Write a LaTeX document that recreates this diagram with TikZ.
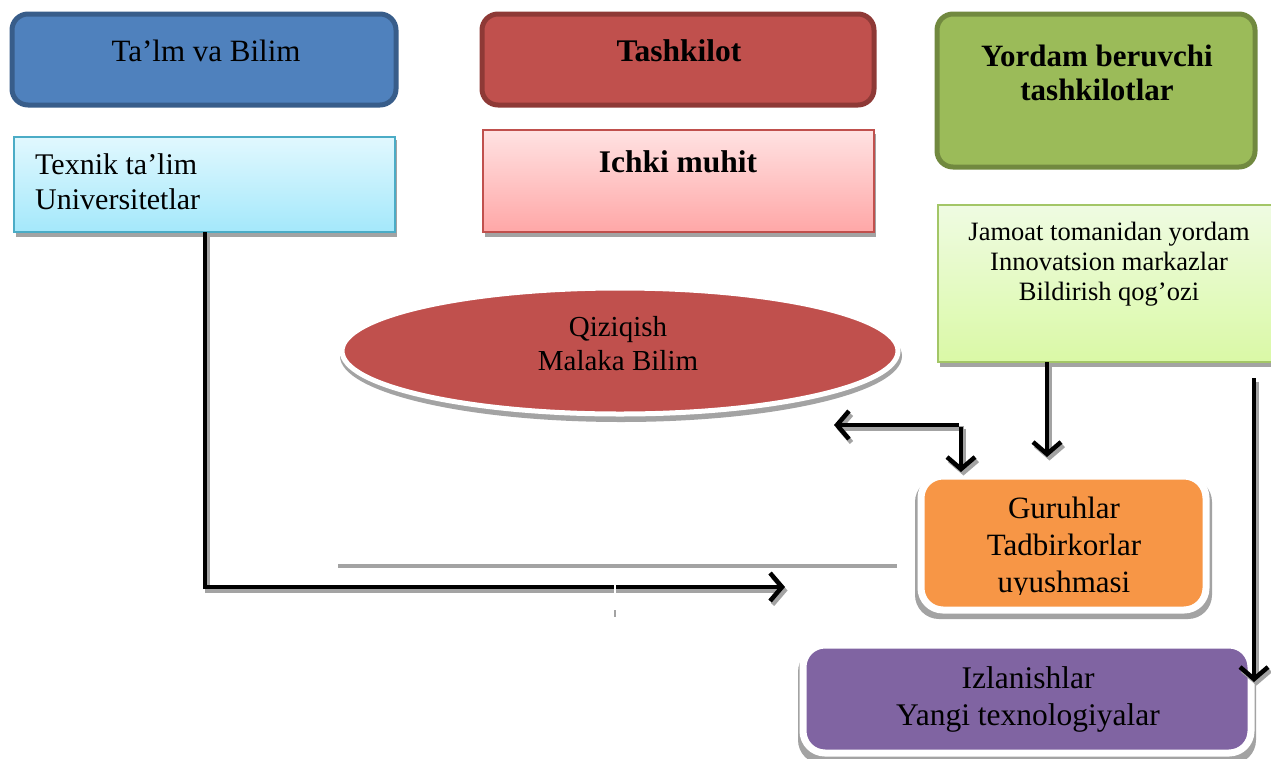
\documentclass[tikz,border=0pt]{standalone}
\usepackage{fontspec}
\setmainfont{Liberation Serif}
\usetikzlibrary{arrows.meta,shapes.geometric}

\definecolor{blueF}{HTML}{4F81BD}
\definecolor{blueD}{HTML}{385D8A}
\definecolor{cyanT}{HTML}{E1F8FE}
\definecolor{cyanB}{HTML}{A4E8FB}
\definecolor{cyanD}{HTML}{4BACC6}
\definecolor{redF}{HTML}{C0504D}
\definecolor{redD}{HTML}{8E3936}
\definecolor{pinkT}{HTML}{FFE2E2}
\definecolor{pinkB}{HTML}{FFA7A7}
\definecolor{greenF}{HTML}{9BBB59}
\definecolor{greenD}{HTML}{71893F}
\definecolor{limeT}{HTML}{EFFBE2}
\definecolor{limeB}{HTML}{DAF9A6}
\definecolor{limeD}{HTML}{A3C667}
\definecolor{orangeF}{HTML}{F79646}
\definecolor{purpleF}{HTML}{8064A2}
\definecolor{dropgray}{HTML}{A3A3A3}

\newcommand{\txtsize}[2]{\fontsize{#1}{#2}\selectfont}

\tikzset{
  title box/.style={draw, rounded corners=16pt, line width=5pt},
  flat box/.style={draw, line width=2pt},
  soft box/.style={draw=white, line width=7pt, rounded corners=22pt},
  % multi-line labels are placed by the baseline of their last line
  label text/.style={inner sep=0pt, anchor=base},
  link/.style={line width=4.5pt, draw=black,
    arrows={-Straight Barb[length=12pt, width=28pt, line width=4.5pt]}},
  link shadow/.style={line width=4.5pt, draw=dropgray,
    arrows={-Straight Barb[length=12pt, width=28pt, line width=4.5pt]},
    transform canvas={shift={(2.5,3.5)}}},
}

\begin{document}
\begin{tikzpicture}[x=1pt, y=-1pt]
  \useasboundingbox[fill=white] (0,0) rectangle (1271,758);

  % ---------- top row: title boxes ----------
  \draw[title box, fill=blueF, draw=blueD] (12,14) rectangle (396,105);
  \node[label text, font=\txtsize{31}{37}] (talim) at (206,61) {Ta’lm va Bilim};

  \draw[title box, fill=redF, draw=redD] (482,14) rectangle (874,105);
  \node[label text, font=\txtsize{31.5}{37}\bfseries] (tashkilot) at (679,61) {Tashkilot};

  \draw[title box, fill=greenF, draw=greenD] (937,14) rectangle (1255,167);
  \node[label text, align=center, font=\txtsize{31}{34}\bfseries] (yordam) at (1097,100)
    {Yordam beruvchi\\ tashkilotlar};

  % ---------- second row: description boxes ----------
  \fill[dropgray] (16,140) rectangle (397,237);
  \draw[flat box, draw=cyanD, top color=cyanT, bottom color=cyanB] (14,137) rectangle (395,232);
  \node[label text, anchor=base west, align=left, font=\txtsize{30}{35}] (texnik) at (35,209)
    {Texnik ta’lim\\ Universitetlar};

  \fill[dropgray] (485,134) rectangle (876,237);
  \draw[flat box, draw=redF, top color=pinkT, bottom color=pinkB] (483,130) rectangle (874,232);
  \node[label text, font=\txtsize{31.5}{37}\bfseries] (ichki) at (678,172) {Ichki muhit};

  \fill[dropgray] (940,208) rectangle (1271,367);
  \draw[flat box, draw=limeD, top color=limeT, bottom color=limeB] (938,205) rectangle (1275,362);
  \node[label text, align=center, font=\txtsize{26.5}{30}] (jamoat) at (1109,300)
    {Jamoat tomanidan yordam\\ Innovatsion markazlar\\ Bildirish qog’ozi};

  % ---------- central ellipse ----------
  \fill[dropgray] (621,356) ellipse [x radius=281, y radius=66];
  \filldraw[fill=redF, draw=white, line width=5pt] (620,351) ellipse [x radius=278, y radius=63];
  \node[label text, align=center, font=\txtsize{29}{34}] (qiziqish) at (618,370)
    {Qiziqish\\ Malaka Bilim};

  % ---------- groups box ----------
  \fill[dropgray, rounded corners=24pt] (915,478) rectangle (1212,619);
  \filldraw[soft box, fill=orangeF] (921,476) rectangle (1206,610);
  \begin{scope}
    \clip (921,476) rectangle (1206,594);
    \node[label text, align=center, font=\txtsize{31}{37}] (guruh) at (1064,592)
      {Guruhlar\\ Tadbirkorlar\\ uyushmasi};
  \end{scope}

  % ---------- research box ----------
  \fill[dropgray, rounded corners=24pt] (798,648) rectangle (1256,764);
  \filldraw[soft box, fill=purpleF] (803,645) rectangle (1251,753);
  \node[label text, align=center, font=\txtsize{31.5}{37}] (izlan) at (1028,725)
    {Izlanishlar\\ Yangi texnologiyalar};

  % ---------- connector anchors ----------
  \coordinate (eduOut) at (205,232);
  \coordinate (eduBend) at (205,587);
  \coordinate (eduEnd) at (785,587);
  \coordinate (fork) at (961,425);
  \coordinate (ovalIn) at (834,425);
  \coordinate (groupIn) at (961,472);
  \coordinate (supOut) at (1047,362);
  \coordinate (supIn) at (1047,457);
  \coordinate (sideOut) at (1254,378);
  \coordinate (sideIn) at (1254,682);

  % loose guide line
  \draw[dropgray, line width=4pt] (338,566) -- (897,566);

  % ---------- connectors: shadows ----------
  \draw[link shadow] (eduOut) -- (eduBend) -- (eduEnd);
  \draw[link shadow] (fork) -- (ovalIn);
  \draw[link shadow] (fork) -- (groupIn);
  \draw[link shadow] (supOut) -- (supIn);
  \draw[link shadow] (sideOut) -- (sideIn);

  % ---------- connectors ----------
  \draw[link] (eduOut) -- (eduBend) -- (eduEnd);
  \draw[link] ([xshift=-2.25pt]fork) -- (ovalIn);
  \draw[link] ([yshift=-2.25pt]fork) -- (groupIn);
  \draw[link] (supOut) -- (supIn);
  \draw[link] (sideOut) -- (sideIn);

  % small tick across the lower connector
  \draw[white, line width=2.5pt] (615,577) -- (615,610);
  \draw[dropgray, line width=2.5pt] (615,610) -- (615,617);
\end{tikzpicture}
\end{document}
